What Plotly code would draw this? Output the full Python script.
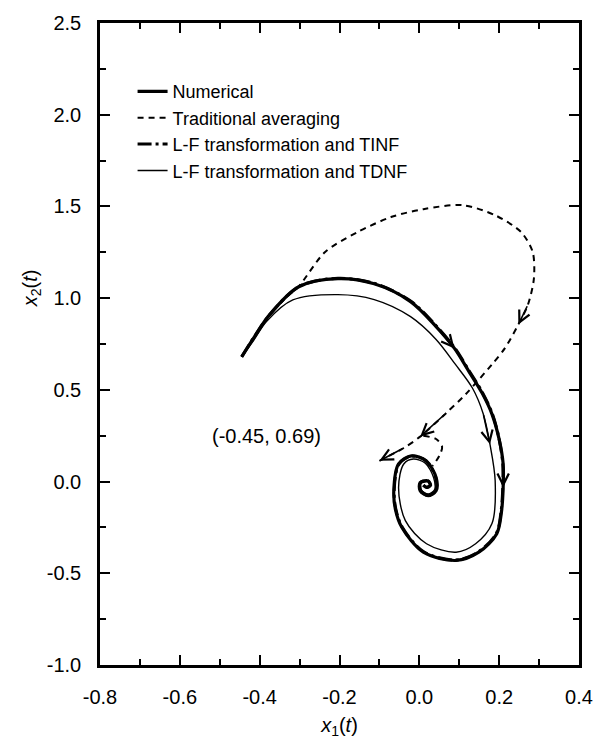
import plotly.graph_objects as go

# ---- data ----
NUM_X = [-0.445, -0.41, -0.375, -0.302, -0.204, -0.113, -0.022, 0.042, 0.088, 0.124, 0.158, 0.182,
         0.200, 0.210, 0.210, 0.206, 0.194, 0.149, 0.092, 0.010, -0.044, -0.060, -0.064, -0.052,
         -0.020, 0.017, 0.042, 0.042, 0.022, 0.002, 0.002, 0.022, 0.028, 0.018, 0.010]
NUM_Y = [0.680, 0.800, 0.910, 1.062, 1.106, 1.078, 0.981, 0.845, 0.726, 0.601, 0.480, 0.368,
         0.230, 0.096, -0.032, -0.160, -0.284, -0.385, -0.430, -0.385, -0.249, -0.150, -0.050, 0.096,
         0.140, 0.113, 0.022, -0.050, -0.077, -0.050, -0.005, 0.004, -0.020, -0.032, -0.020]

TINF_X = [-0.445, -0.41, -0.374, -0.301, -0.204, -0.112, -0.021, 0.043, 0.089, 0.125, 0.159, 0.183,
          0.200, 0.209, 0.209, 0.205, 0.193, 0.148, 0.092, 0.011, -0.043, -0.059, -0.063, -0.051,
          -0.019, 0.017, 0.041, 0.041, 0.022, 0.003, 0.003, 0.021, 0.027, 0.018, 0.010]
TINF_Y = [0.680, 0.802, 0.912, 1.064, 1.108, 1.080, 0.983, 0.847, 0.728, 0.603, 0.482, 0.369,
          0.231, 0.096, -0.031, -0.158, -0.282, -0.383, -0.428, -0.383, -0.248, -0.149, -0.049, 0.095,
          0.139, 0.112, 0.022, -0.049, -0.076, -0.049, -0.005, 0.004, -0.019, -0.031, -0.020]

TDNF_X = [-0.445, -0.415, -0.383, -0.317, -0.204, -0.113, -0.022, 0.042, 0.090, 0.133, 0.160, 0.177,
          0.190, 0.182, 0.141, 0.092, 0.018, -0.035, -0.052, -0.039, -0.015, 0.015, 0.036, 0.038,
          0.022, 0.005, 0.005, 0.020]
TDNF_Y = [0.680, 0.770, 0.872, 0.990, 1.019, 0.992, 0.899, 0.775, 0.640, 0.510, 0.370, 0.203,
          0.004, -0.229, -0.339, -0.385, -0.339, -0.213, -0.032, 0.096, 0.123, 0.100, 0.020, -0.045,
          -0.068, -0.045, -0.010, 0.000]

TRAD_X = [-0.445, -0.41, -0.375, -0.335, -0.300, -0.236, -0.155, -0.071, 0.010, 0.108, 0.189,
          0.255, 0.284, 0.287, 0.272, 0.248, 0.214, 0.182, 0.116, 0.067, 0.002, -0.039, -0.100,
          None, 0.010, 0.042, 0.057, 0.050, 0.033]
TRAD_Y = [0.680, 0.800, 0.910, 1.000, 1.070, 1.252, 1.360, 1.442, 1.485, 1.507, 1.453,
          1.360, 1.252, 1.106, 0.964, 0.856, 0.726, 0.639, 0.476, 0.373, 0.245, 0.183, 0.113,
          None, 0.250, 0.232, 0.190, 0.140, 0.085]

# indices of points that carry a direction arrow (tip at index, tail at index-1)
NUM_ARROWS = [8, 14]
TDNF_ARROWS = [11]
TRAD_ARROWS = [15, 20, 22]

START_LABEL = "(-0.45, 0.69)"
START_LABEL_POS = (-0.383, 0.25)

X_TICKS = [-0.8, -0.6, -0.4, -0.2, 0.0, 0.2, 0.4]
X_TICK_TEXT = ["-0.8", "-0.6", "-0.4", "-0.2", "0.0", "0.2", "0.4"]
Y_TICKS = [-1.0, -0.5, 0.0, 0.5, 1.0, 1.5, 2.0, 2.5]
Y_TICK_TEXT = ["-1.0", "-0.5", "0.0", "0.5", "1.0", "1.5", "2.0", "2.5"]

FONT = "Liberation Sans, Arial, sans-serif"

fig = go.Figure()
fig.add_trace(go.Scatter(x=NUM_X, y=NUM_Y, mode="lines", name="Numerical",
                         line=dict(color="black", width=3.2, shape="spline", smoothing=0.9)))
fig.add_trace(go.Scatter(x=TRAD_X, y=TRAD_Y, mode="lines", name="Traditional averaging",
                         line=dict(color="black", width=2, dash="6px,5px", shape="spline", smoothing=0.8)))
fig.add_trace(go.Scatter(x=TINF_X, y=TINF_Y, mode="lines", name="L-F transformation and TINF",
                         line=dict(color="black", width=3, dash="14px,4px,3px,4px", shape="spline", smoothing=0.9)))
fig.add_trace(go.Scatter(x=TDNF_X, y=TDNF_Y, mode="lines", name="L-F transformation and TDNF",
                         line=dict(color="black", width=1.4, shape="spline", smoothing=0.9)))

annotations = []

def add_arrows(xs, ys, idxs):
    for i in idxs:
        annotations.append(dict(x=xs[i], y=ys[i], ax=xs[i - 1], ay=ys[i - 1],
                                xref="x", yref="y", axref="x", ayref="y",
                                text="", showarrow=True, arrowhead=5, arrowsize=1.4,
                                arrowwidth=1.6, arrowcolor="black", standoff=0))

add_arrows(NUM_X, NUM_Y, NUM_ARROWS)
add_arrows(TDNF_X, TDNF_Y, TDNF_ARROWS)
add_arrows(TRAD_X, TRAD_Y, TRAD_ARROWS)

annotations.append(dict(x=START_LABEL_POS[0], y=START_LABEL_POS[1], xref="x", yref="y",
                        text=START_LABEL, showarrow=False,
                        font=dict(family=FONT, size=20, color="black")))
annotations.append(dict(x=-0.143, y=0.586, xref="paper", yref="paper",
                        text="<i>x</i><sub>2</sub>(<i>t</i>)", showarrow=False, textangle=-90,
                        xanchor="center", yanchor="middle",
                        font=dict(family=FONT, size=20, color="black")))

axis_common = dict(showline=True, linecolor="black", linewidth=2.5, mirror="ticks",
                   ticks="inside", ticklen=10, tickwidth=2, tickcolor="black",
                   showgrid=False, zeroline=False,
                   tickfont=dict(family=FONT, size=20, color="black"))

fig.update_xaxes(range=[-0.8, 0.4], tickvals=X_TICKS, ticktext=X_TICK_TEXT,
                 minor=dict(dtick=0.1, ticks="inside", ticklen=6, tickwidth=2, tickcolor="black"),
                 ticklabelstandoff=12,
                 title=dict(text="<i>x</i><sub>1</sub>(<i>t</i>)", standoff=12,
                            font=dict(family=FONT, size=20, color="black")),
                 **axis_common)
fig.update_yaxes(range=[-1.0, 2.5], tickvals=Y_TICKS, ticktext=Y_TICK_TEXT,
                 minor=dict(dtick=0.25, ticks="inside", ticklen=6, tickwidth=2, tickcolor="black"),
                 ticklabelstandoff=12,
                 **axis_common)

fig.update_layout(
    width=605, height=750,
    margin=dict(l=100, r=16, t=20, b=85),
    paper_bgcolor="white", plot_bgcolor="white",
    font=dict(family=FONT, size=20, color="black"),
    showlegend=True,
    legend=dict(x=0.068, y=0.922, xanchor="left", yanchor="top",
                bgcolor="rgba(0,0,0,0)", borderwidth=0,
                font=dict(family=FONT, size=18, color="black"),
                tracegroupgap=0),
    annotations=annotations,
)

fig.write_html("out.html")
